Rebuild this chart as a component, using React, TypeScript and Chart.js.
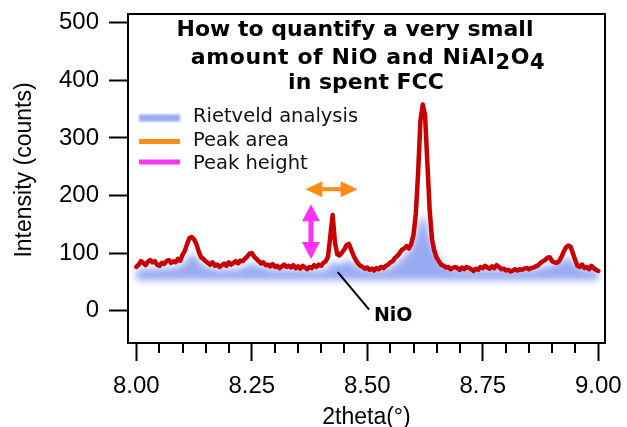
import React, { useEffect, useRef } from 'react';
import { Chart, registerables } from 'chart.js';

Chart.register(...registerables);

// ---------- data ----------
const thetaStart = 8.0;
const thetaStep = 0.005;
// observed intensity (counts), sampled every 0.005° from 8.000 to 9.000
const observed = [
  76, 80, 86, 83, 79, 85, 88, 84, 86, 80,
  78, 83, 81, 86, 88, 83, 86, 84, 90, 87,
  97, 104, 116, 126, 128, 124, 116, 103, 93, 90,
  86, 83, 80, 84, 78, 80, 76, 79, 82, 78,
  84, 80, 83, 86, 82, 87, 86, 90, 94, 99,
  100, 94, 90, 86, 82, 84, 79, 80, 77, 81,
  76, 78, 74, 77, 80, 76, 78, 75, 79, 74,
  77, 73, 78, 75, 72, 76, 74, 79, 76, 80,
  78, 83, 86, 94, 130, 166, 118, 98, 96, 101,
  106, 114, 116, 106, 96, 88, 82, 78, 76, 73,
  75, 71, 73, 70, 74, 72, 76, 74, 78, 80,
  84, 86, 92, 95, 100, 106, 108, 112, 108, 116,
  132, 168, 240, 330, 358, 340, 256, 175, 124, 104,
  92, 86, 80, 78, 75, 76, 72, 74, 76, 74,
  71, 75, 72, 76, 74, 72, 69, 73, 71, 76,
  74, 78, 75, 73, 77, 74, 79, 76, 72, 73,
  70, 71, 68, 70, 72, 70, 72, 71, 73, 74,
  72, 74, 75, 77, 79, 83, 86, 88, 92, 93,
  86, 84, 83, 86, 93, 102, 110, 113, 111, 100,
  88, 78, 76, 80, 74, 76, 72, 78, 74, 71,
  69,
];

// Rietveld calculated pattern (blue band)
const rietveldTheta = [
  8.0, 8.04, 8.08, 8.1, 8.11, 8.12, 8.13, 8.145, 8.17, 8.22, 8.24, 8.25, 8.262, 8.29,
  8.4, 8.415, 8.425, 8.435, 8.45, 8.46, 8.47, 8.49, 8.54, 8.56, 8.58, 8.595, 8.605,
  8.615, 8.62, 8.627, 8.637, 8.65, 8.665, 8.69, 8.86, 8.89, 8.92, 8.935, 8.95, 8.97, 9.0,
];
const rietveldCalc = [
  72, 73, 74, 80, 90, 100, 92, 78, 72, 72, 78, 84, 78, 72,
  70, 73, 88, 80, 84, 90, 80, 72, 71, 80, 95, 108, 130,
  160, 166, 155, 122, 95, 78, 71, 71, 78, 84, 94, 80, 72, 70,
];
const rietveldFloor = 53;

const xTicks = [8.0, 8.25, 8.5, 8.75, 9.0];
const xMinorStep = 0.05;
const yTicks = [0, 100, 200, 300, 400, 500];

const titleLines = ['How to quantify a very small', 'amount of NiO and NiAl|2|O|4', 'in spent FCC'];
const legendItems = [
  { label: 'Rietveld analysis', color: 'rgb(150,170,245)', blur: true },
  { label: 'Peak area', color: 'rgb(255,140,20)', blur: false },
  { label: 'Peak height', color: 'rgb(255,50,245)', blur: false },
];

// annotations (data units)
const peakAreaArrow = { x1: 8.366, x2: 8.479, y: 211 };
const peakHeightArrow = { x: 8.378, y1: 90, y2: 185 };
const nioPointer = { x1: 8.436, y1: 67, x2: 8.504, y2: 2 };
const nioLabel = { x: 8.556, y: -7, text: 'NiO' };

// ---------- helpers ----------
function doubleArrow(ctx: CanvasRenderingContext2D, x1: number, y1: number, x2: number, y2: number,
  color: string, shaft: number, headLen: number, headHalf: number) {
  const dx = x2 - x1, dy = y2 - y1;
  const len = Math.hypot(dx, dy);
  const ux = dx / len, uy = dy / len;
  const nx = -uy, ny = ux;
  ctx.save();
  ctx.strokeStyle = color;
  ctx.fillStyle = color;
  ctx.lineWidth = shaft;
  ctx.beginPath();
  ctx.moveTo(x1 + ux * headLen * 0.8, y1 + uy * headLen * 0.8);
  ctx.lineTo(x2 - ux * headLen * 0.8, y2 - uy * headLen * 0.8);
  ctx.stroke();
  const head = (tx: number, ty: number, sx: number, sy: number) => {
    ctx.beginPath();
    ctx.moveTo(tx, ty);
    ctx.lineTo(tx - sx * headLen + nx * headHalf, ty - sy * headLen + ny * headHalf);
    ctx.lineTo(tx - sx * headLen - nx * headHalf, ty - sy * headLen - ny * headHalf);
    ctx.closePath();
    ctx.fill();
  };
  head(x2, y2, ux, uy);
  head(x1, y1, -ux, -uy);
  ctx.restore();
}

const AXIS_FAMILY = '"Liberation Sans", Arial, sans-serif';

const decorPlugin = {
  id: 'decor',
  beforeDatasetsDraw(chart: any) {
    const ctx: CanvasRenderingContext2D = chart.ctx;
    const a = chart.chartArea;
    const lower = chart.getDatasetMeta(0).data;
    const upper = chart.getDatasetMeta(1).data;
    ctx.save();
    ctx.beginPath();
    ctx.rect(a.left, a.top, a.right - a.left, a.bottom - a.top);
    ctx.clip();
    ctx.filter = 'blur(3.5px)';
    ctx.beginPath();
    upper.forEach((p: any, i: number) => (i ? ctx.lineTo(p.x, p.y) : ctx.moveTo(p.x, p.y)));
    for (let i = lower.length - 1; i >= 0; i--) ctx.lineTo(lower[i].x, lower[i].y);
    ctx.closePath();
    ctx.fillStyle = 'rgba(135,155,240,0.85)';
    ctx.fill();
    ctx.restore();
  },
  afterDatasetsDraw(chart: any) {
    const ctx: CanvasRenderingContext2D = chart.ctx;
    const xs = chart.scales.x, ys = chart.scales.y;
    doubleArrow(ctx, xs.getPixelForValue(peakAreaArrow.x1), ys.getPixelForValue(peakAreaArrow.y),
      xs.getPixelForValue(peakAreaArrow.x2), ys.getPixelForValue(peakAreaArrow.y),
      'rgb(255,140,20)', 4, 17, 8);
    doubleArrow(ctx, xs.getPixelForValue(peakHeightArrow.x), ys.getPixelForValue(peakHeightArrow.y1),
      xs.getPixelForValue(peakHeightArrow.x), ys.getPixelForValue(peakHeightArrow.y2),
      'rgb(255,50,245)', 5, 17, 9);
    ctx.save();
    ctx.strokeStyle = '#000';
    ctx.lineWidth = 2;
    ctx.beginPath();
    ctx.moveTo(xs.getPixelForValue(nioPointer.x1), ys.getPixelForValue(nioPointer.y1));
    ctx.lineTo(xs.getPixelForValue(nioPointer.x2), ys.getPixelForValue(nioPointer.y2));
    ctx.stroke();
    ctx.fillStyle = '#000';
    ctx.font = 'bold 19px "DejaVu Sans", Verdana, sans-serif';
    ctx.textAlign = 'center';
    ctx.textBaseline = 'middle';
    ctx.fillText(nioLabel.text, xs.getPixelForValue(nioLabel.x), ys.getPixelForValue(nioLabel.y) + 1);
    ctx.restore();
  },
  afterDraw(chart: any) {
    const ctx: CanvasRenderingContext2D = chart.ctx;
    const a = chart.chartArea;
    const xs = chart.scales.x;
    ctx.save();
    // frame
    ctx.strokeStyle = '#000';
    ctx.lineWidth = 2;
    ctx.strokeRect(a.left, a.top, a.right - a.left, a.bottom - a.top);
    // minor x ticks
    ctx.beginPath();
    for (let v = xTicks[0]; v < xTicks[xTicks.length - 1] + 1e-9; v += xMinorStep) {
      const r = Math.round(v * 100) / 100;
      if (xTicks.some((t) => Math.abs(t - r) < 1e-6)) continue;
      const px = Math.round(xs.getPixelForValue(r));
      ctx.moveTo(px, a.bottom);
      ctx.lineTo(px, a.bottom + 10);
    }
    ctx.stroke();

    // y axis title
    ctx.save();
    ctx.translate(25, 170);
    ctx.rotate(-Math.PI / 2);
    ctx.font = `23px ${AXIS_FAMILY}`;
    ctx.fillStyle = '#000';
    ctx.textAlign = 'center';
    ctx.textBaseline = 'middle';
    ctx.fillText('Intensity (counts)', 0, 0);
    ctx.restore();

    // title
    ctx.fillStyle = '#000';
    ctx.textBaseline = 'alphabetic';
    ctx.textAlign = 'left';
    const centers = [355, 368, 366];
    const baselines = [36, 64, 89];
    const spacing = ['0px', '0.6px', '0px'];
    const mainFont = 'bold 22px "DejaVu Sans", Verdana, sans-serif';
    const subFont = 'bold 21px "DejaVu Sans", Verdana, sans-serif';
    titleLines.forEach((line, li) => {
      (ctx as any).letterSpacing = spacing[li];
      const parts = line.split('|');
      const segs = parts.map((t, i) => ({ t, sub: i % 2 === 1 }));
      let total = 0;
      segs.forEach((s) => {
        ctx.font = s.sub ? subFont : mainFont;
        total += ctx.measureText(s.t).width;
      });
      let x = centers[li] - total / 2;
      segs.forEach((s) => {
        ctx.font = s.sub ? subFont : mainFont;
        ctx.fillText(s.t, x, baselines[li] + (s.sub ? 5 : 0));
        x += ctx.measureText(s.t).width;
      });
    });
    (ctx as any).letterSpacing = '0px';

    // legend
    const legY = [118, 141.5, 162];
    const textY = [121.5, 146, 168.5];
    legendItems.forEach((it, i) => {
      ctx.save();
      if (it.blur) ctx.filter = 'blur(1.2px)';
      ctx.strokeStyle = it.color;
      ctx.lineWidth = it.blur ? 7 : 5;
      ctx.beginPath();
      ctx.moveTo(139, legY[i]);
      ctx.lineTo(180, legY[i]);
      ctx.stroke();
      ctx.restore();
      ctx.fillStyle = '#111';
      ctx.font = '19.5px "DejaVu Sans", Verdana, sans-serif';
      ctx.fillText(it.label, 193, textY[i]);
    });
    ctx.restore();
  },
};

export default function App() {
  const ref = useRef<HTMLCanvasElement>(null);
  useEffect(() => {
    if (!ref.current) return;
    const axisFont = { family: AXIS_FAMILY, size: 24 };
    const chart = new Chart(ref.current, {
      type: 'line',
      data: {
        datasets: [
          {
            label: 'floor',
            data: rietveldTheta.map((x) => ({ x, y: rietveldFloor })),
            showLine: false,
            pointRadius: 0,
          },
          {
            label: 'Rietveld analysis',
            data: rietveldTheta.map((x, i) => ({ x, y: rietveldCalc[i] })),
            showLine: false,
            pointRadius: 0,
          },
          {
            label: 'Observed',
            data: observed.map((y, i) => ({ x: thetaStart + i * thetaStep, y })),
            borderColor: '#c80000',
            borderWidth: 4.5,
            pointRadius: 0,
            tension: 0,
            borderJoinStyle: 'round',
            borderCapStyle: 'round',
            fill: false,
          },
        ],
      },
      options: {
        animation: false,
        responsive: false,
        maintainAspectRatio: false,
        layout: { padding: { top: 14, right: 22, left: 0, bottom: 0 } },
        plugins: {
          legend: { display: false },
          title: { display: false },
          tooltip: { enabled: false },
        },
        scales: {
          x: {
            type: 'linear',
            min: 7.982,
            max: 9.0145,
            afterBuildTicks: (s: any) => {
              s.ticks = xTicks.map((v) => ({ value: v }));
            },
            afterFit: (s: any) => {
              s.height = 84;
              s.paddingLeft = 0;
              s.paddingRight = 0;
            },
            ticks: {
              callback: (v: any) => Number(v).toFixed(2),
              font: axisFont,
              color: '#000',
              padding: 11,
              maxRotation: 0,
              autoSkip: false,
            },
            grid: { drawOnChartArea: false, tickLength: 18, tickWidth: 2, tickColor: '#000' },
            border: { display: false },
            title: {
              display: true,
              text: '2theta(°)',
              font: { family: AXIS_FAMILY, size: 23 },
              color: '#000',
              padding: { top: 0, bottom: -4 },
            },
          },
          y: {
            min: -56,
            max: 515,
            afterBuildTicks: (s: any) => {
              s.ticks = yTicks.map((v) => ({ value: v }));
            },
            afterFit: (s: any) => {
              s.width = 128;
              s.paddingTop = 0;
              s.paddingBottom = 0;
            },
            ticks: { font: axisFont, color: '#000', padding: 10 },
            grid: { drawOnChartArea: false, tickLength: 19, tickWidth: 2, tickColor: '#000' },
            border: { display: false },
            title: { display: false },
          },
        },
      } as any,
      plugins: [decorPlugin],
    });
    return () => chart.destroy();
  }, []);
  return (
    <div style={{ position: 'absolute', left: 0, top: 0, width: 627, height: 427, background: '#fff' }}>
      <canvas ref={ref} width={627} height={427} style={{ display: 'block' }} />
    </div>
  );
}
